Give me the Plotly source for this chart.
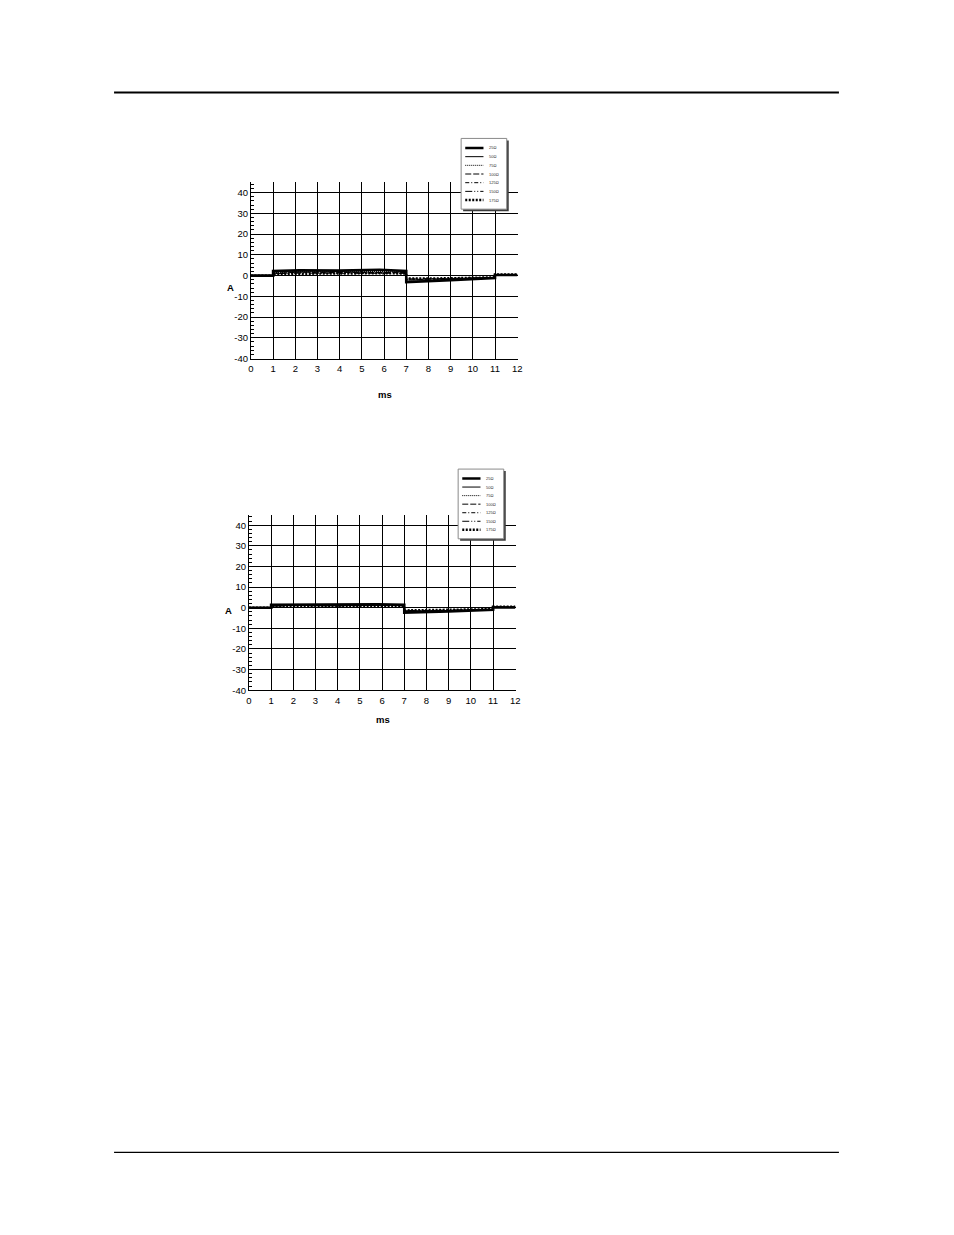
import plotly.graph_objects as go

# time points (ms) of the sampled current traces
times = [0, 1, 1, 2.2, 4, 5.8, 7, 7, 9, 11, 11, 12]

loads = ["25Ω", "50Ω", "75Ω", "100Ω", "125Ω", "150Ω", "175Ω"]

# current (A) for each load, upper chart
chart1_values = [
    [0, 0, 2.2, 2.6, 2.4, 2.8, 2.2, -3.2, -2.2, -1.2, 0.3, 0.3],
    [0, 0, 1.8, 2.2, 2.1, 2.4, 2.0, -2.8, -2.0, -1.1, 0.4, 0.4],
    [0, 0, 1.4, 1.9, 1.8, 2.0, 1.7, -2.4, -1.8, -1.0, 0.4, 0.4],
    [0, 0, 1.2, 1.6, 1.5, 1.7, 1.5, -2.1, -1.6, -0.9, 0.5, 0.5],
    [0, 0, 1.0, 1.4, 1.3, 1.5, 1.3, -1.8, -1.5, -0.9, 0.5, 0.5],
    [0, 0, 0.9, 1.2, 1.1, 1.3, 1.1, -1.6, -1.4, -0.8, 0.5, 0.5],
    [0, 0, 0.8, 1.0, 1.0, 1.1, 1.0, -1.4, -1.3, -0.8, 0.5, 0.5],
]

# current (A) for each load, lower chart
chart2_values = [
    [0, 0, 1.4, 1.5, 1.3, 1.6, 1.4, -2.4, -1.8, -1.0, 0.1, 0.1],
    [0, 0, 1.2, 1.4, 1.2, 1.5, 1.3, -2.1, -1.6, -0.9, 0.2, 0.2],
    [0, 0, 1.0, 1.3, 1.1, 1.4, 1.2, -1.9, -1.5, -0.9, 0.3, 0.3],
    [0, 0, 0.9, 1.2, 1.0, 1.3, 1.1, -1.7, -1.4, -0.8, 0.3, 0.3],
    [0, 0, 0.8, 1.1, 0.9, 1.2, 1.0, -1.5, -1.3, -0.8, 0.4, 0.4],
    [0, 0, 0.7, 1.0, 0.8, 1.1, 0.9, -1.4, -1.2, -0.7, 0.4, 0.4],
    [0, 0, 0.6, 0.9, 0.8, 1.0, 0.9, -1.3, -1.1, -0.7, 0.5, 0.5],
]

x_ticks = list(range(0, 13))
y_ticks = list(range(-40, 41, 10))
y_tick_labels = [str(v) for v in y_ticks]  # plain hyphen, not U+2212

# line styles per load (width, dash)
styles = [
    (2.6, "solid"),
    (1.0, "solid"),
    (1.0, "1px,1px"),
    (1.0, "6px,2px"),
    (1.0, "4px,2px,1px,2px"),
    (1.0, "7px,2px,1px,2px,1px,2px"),
    (2.4, "2px,1.5px"),
]

W, H = 954, 1235
FONT = "Liberation Sans, Arial, sans-serif"


def fx(p):
    return p / W


def fy(p):
    return 1 - p / H


# page placement of the two charts (pixels)
panels = [
    dict(x0=250, x1=519, y0=183, y1=360, box=(462, 139, 508, 210),
         a=(224, 281), ms=(385, 389), values=chart1_values),
    dict(x0=248, x1=517, y0=517, y1=693, box=(459, 471, 505, 541),
         a=(222, 613), ms=(383, 722), values=chart2_values),
]

fig = go.Figure()
shapes = []
annotations = []
layout = {}

for i, p in enumerate(panels):
    n = i + 1
    xa = "x" if n == 1 else f"x{n}"
    ya = "y" if n == 1 else f"y{n}"
    lx_id = n + 2
    lxa, lya = f"x{lx_id}", f"y{lx_id}"

    for name, vals, (w, dash) in zip(loads, p["values"], styles):
        fig.add_trace(go.Scatter(
            x=times, y=vals, mode="lines", name=name,
            line=dict(color="black", width=w, dash=dash),
            xaxis=xa, yaxis=ya, showlegend=False,
        ))

    key = "" if n == 1 else str(n)
    layout[f"xaxis{key}"] = dict(
        domain=[fx(p["x0"]), fx(p["x1"])], range=[0, 12.02],
        anchor=ya, tickvals=x_ticks, showgrid=True, gridcolor="black",
        gridwidth=1.3, zeroline=False, showline=True, linecolor="black",
        linewidth=1.3, ticks="", ticklabelstandoff=1,
        tickfont=dict(family=FONT, size=9.5, color="black"),
    )
    layout[f"yaxis{key}"] = dict(
        domain=[fy(p["y1"]), fy(p["y0"])], range=[-40, 45],
        anchor=xa, tickvals=y_ticks, ticktext=y_tick_labels,
        showgrid=True, gridcolor="black",
        gridwidth=1.3, zeroline=False, showline=True, linecolor="black",
        linewidth=1, ticks="inside", ticklen=3, tickcolor="black",
        minor=dict(dtick=2, ticks="inside", ticklen=3, tickcolor="black",
                   showgrid=False),
        tickfont=dict(family=FONT, size=9.5, color="black"),
    )

    # legend box with drop shadow
    bx0, by0, bx1, by1 = p["box"]
    shapes.append(dict(type="rect", xref="paper", yref="paper", layer="above",
                       x0=fx(bx0 + 2), x1=fx(bx1 + 2), y0=fy(by0 + 2), y1=fy(by1 + 2),
                       fillcolor="#3a3a3a", line=dict(width=0)))
    shapes.append(dict(type="rect", xref="paper", yref="paper", layer="above",
                       x0=fx(bx0), x1=fx(bx1), y0=fy(by0), y1=fy(by1),
                       fillcolor="white", line=dict(color="#8a8a8a", width=1)))

    # legend axes spanning the box; one row per load
    layout[f"xaxis{lx_id}"] = dict(domain=[fx(bx0), fx(bx1)], range=[0, 1],
                                   anchor=lya, visible=False, fixedrange=True)
    layout[f"yaxis{lx_id}"] = dict(domain=[fy(by1), fy(by0)], range=[7.05, -1.1],
                                   anchor=lxa, visible=False, fixedrange=True)
    for k, (name, (w, dash)) in enumerate(zip(loads, styles)):
        shapes.append(dict(type="line", xref=lxa, yref=lya, layer="above",
                           x0=0.09, x1=0.49, y0=k, y1=k,
                           line=dict(color="black", width=w, dash=dash)))
        annotations.append(dict(x=0.57, y=k, xref=lxa, yref=lya, text=name,
                                showarrow=False, xanchor="left", yanchor="middle",
                                font=dict(family=FONT, size=4, color="#333333")))

    annotations.append(dict(x=fx(p["a"][0]), y=fy(p["a"][1]), xref="paper", yref="paper",
                            text="<b>A</b>", showarrow=False,
                            font=dict(family=FONT, size=9.5, color="black")))
    annotations.append(dict(x=fx(p["ms"][0]), y=fy(p["ms"][1]), xref="paper", yref="paper",
                            text="<b>ms</b>", showarrow=False,
                            font=dict(family=FONT, size=9.5, color="black")))

# page rules at top and bottom
shapes.append(dict(type="line", xref="paper", yref="paper", x0=fx(112), x1=fx(843),
                   y0=fy(93), y1=fy(93), line=dict(color="black", width=2)))
shapes.append(dict(type="line", xref="paper", yref="paper", x0=fx(112), x1=fx(843),
                   y0=fy(1157), y1=fy(1157), line=dict(color="black", width=1.2)))

fig.update_layout(
    width=W, height=H,
    margin=dict(l=0, r=0, t=0, b=0),
    paper_bgcolor="white", plot_bgcolor="white",
    shapes=shapes, annotations=annotations,
    **layout,
)

# drop the default body margin so the figure sits flush with the window
fig.write_html("out.html", config={"displayModeBar": False},
               post_script="document.body.style.margin='0';document.body.style.overflow='hidden';")
